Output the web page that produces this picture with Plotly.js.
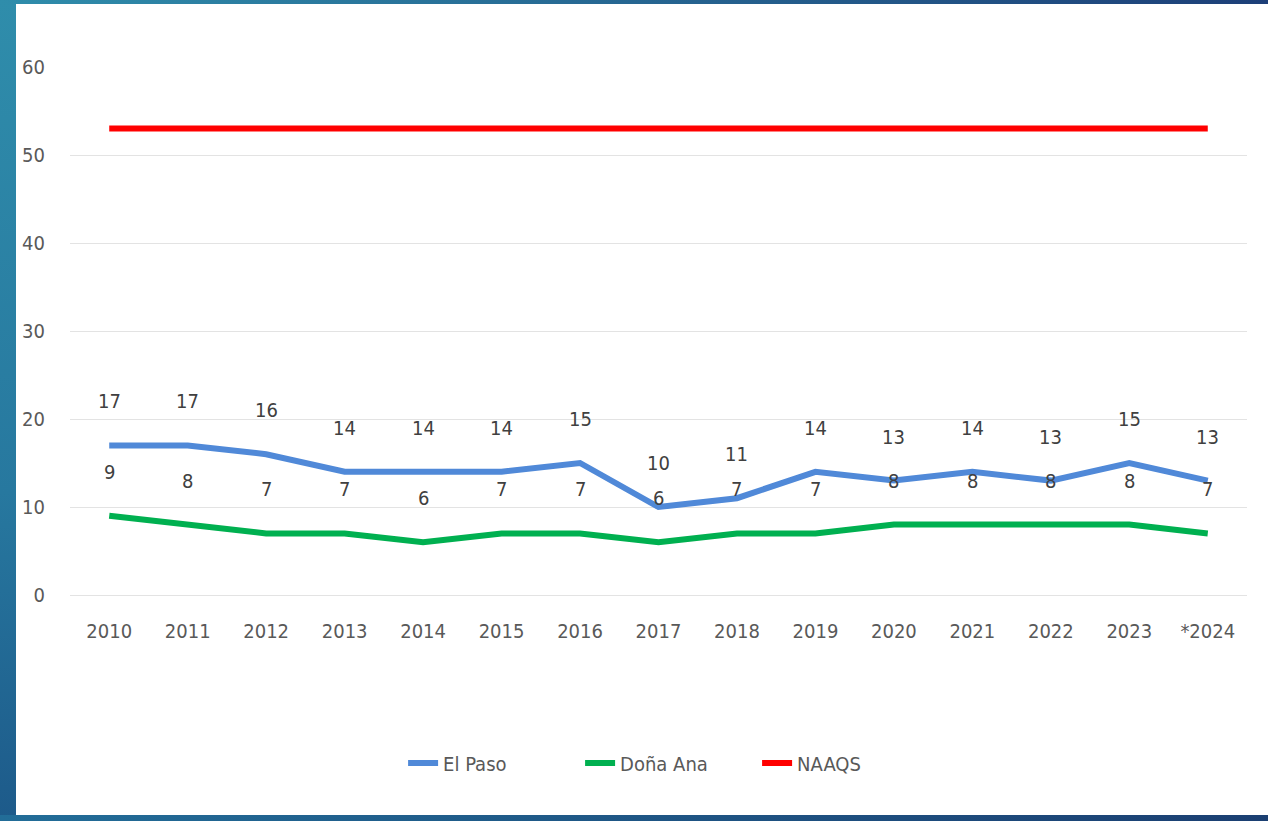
<!DOCTYPE html>
<html><head><meta charset="utf-8">
<script src="https://cdn.plot.ly/plotly-3.0.1.min.js"></script>
<style>
html,body{margin:0;padding:0;width:1268px;height:821px;overflow:hidden;}
body{background:linear-gradient(180deg,#2f8dab 0%,#27789f 60%,#1d5a8a 100%);}
#top{position:absolute;left:0;top:0;width:1268px;height:4px;background:linear-gradient(90deg,#2f8dab,#1d3f78);}
#bot{position:absolute;left:0;top:815px;width:1268px;height:6px;background:linear-gradient(90deg,#226d98,#1b3f72);}
#chart{position:absolute;left:16px;top:4px;width:1252px;height:811px;background:#fff;}
</style></head>
<body><div id="top"></div><div id="bot"></div><div id="chart"></div>
<script>
const years = ['2010','2011','2012','2013','2014','2015','2016','2017','2018','2019','2020','2021','2022','2023','*2024'];
const elPaso = [17,17,16,14,14,14,15,10,11,14,13,14,13,15,13];
const donaAna = [9,8,7,7,6,7,7,6,7,7,8,8,8,8,7];
const naaqs = [53,53,53,53,53,53,53,53,53,53,53,53,53,53,53];

const font = "'Liberation Sans Narrow','DejaVu Sans Condensed','Arial Narrow',sans-serif";
const traces = [
  {x:years,y:elPaso,name:'El Paso',type:'scatter',mode:'lines',line:{color:'#5089d8',width:6}},
  {x:years,y:donaAna,name:'Doña Ana',type:'scatter',mode:'lines',line:{color:'#00b050',width:6}},
  {x:years,y:naaqs,name:'NAAQS',type:'scatter',mode:'lines',line:{color:'#ff0000',width:6}}
];
const ann = [];
[elPaso,donaAna].forEach(arr=>{
  arr.forEach((v,i)=>{
    ann.push({x:i,y:v,xref:'x',yref:'y',text:String(v),showarrow:false,yshift:44,
      font:{family:font,size:20,color:'#404040'}});
  });
});
const layout = {
  width:1252,height:811,
  margin:{l:54,r:21,t:63,b:220},
  paper_bgcolor:'#ffffff',plot_bgcolor:'#ffffff',
  showlegend:true,
  legend:{orientation:'h',x:0.283,xanchor:'left',y:-0.318,yanchor:'middle',
    font:{family:font,size:20,color:'#595959'},entrywidth:132,entrywidthmode:'pixels',tracegroupgap:0},
  xaxis:{type:'category',range:[-0.5,14.5],showgrid:false,zeroline:false,showline:false,
    ticks:'',tickfont:{family:font,size:20,color:'#595959'},ticklabelstandoff:22,fixedrange:true},
  yaxis:{range:[0,60],dtick:10,showgrid:true,gridcolor:'#e3e3e3',gridwidth:1,zeroline:true,zerolinecolor:'#e3e3e3',
    zerolinewidth:1,showline:false,ticks:'',tickfont:{family:font,size:20,color:'#595959'},ticklabelstandoff:24,fixedrange:true},
  annotations:ann,
  hovermode:false
};
Plotly.newPlot('chart',traces,layout,{displayModeBar:false,staticPlot:true});
</script></body></html>
